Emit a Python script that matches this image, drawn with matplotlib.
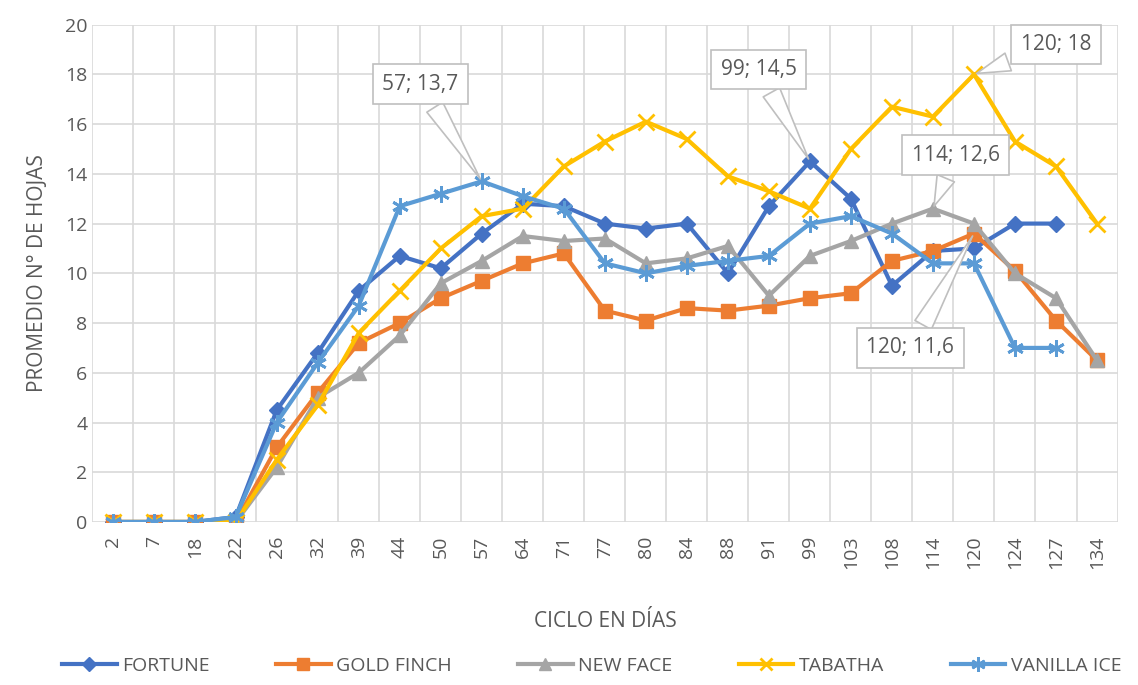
"""Promedio de hojas por ciclo, cinco variedades."""

import matplotlib

matplotlib.use("Agg", force=True)
import matplotlib.pyplot as plt
import numpy as np
from matplotlib import font_manager

dias = ["2", "7", "18", "22", "26", "32", "39", "44", "50", "57", "64", "71", "77",
        "80", "84", "88", "91", "99", "103", "108", "114", "120", "124", "127", "134"]

fortune = [0, 0, 0, 0.2, 4.5, 6.8, 9.3, 10.7, 10.2, 11.6, 12.8, 12.7, 12.0,
           11.8, 12.0, 10.0, 12.7, 14.5, 13.0, 9.5, 10.9, 11.0, 12.0, 12.0, None]
gold_finch = [0, 0, 0, 0, 3.0, 5.2, 7.2, 8.0, 9.0, 9.7, 10.4, 10.8, 8.5,
              8.1, 8.6, 8.5, 8.7, 9.0, 9.2, 10.5, 10.9, 11.6, 10.1, 8.1, 6.5]
new_face = [0, 0, 0, 0, 2.2, 5.0, 6.0, 7.5, 9.6, 10.5, 11.5, 11.3, 11.4,
            10.4, 10.6, 11.1, 9.1, 10.7, 11.3, 12.0, 12.6, 12.0, 10.0, 9.0, 6.5]
tabatha = [0, 0, 0, 0, 2.5, 4.7, 7.6, 9.3, 11.0, 12.3, 12.6, 14.3, 15.3,
           16.1, 15.4, 13.9, 13.3, 12.6, 15.0, 16.7, 16.3, 18.0, 15.3, 14.3, 12.0]
vanilla_ice = [0, 0, 0, 0.2, 4.0, 6.4, 8.7, 12.7, 13.2, 13.7, 13.1, 12.6, 10.4,
               10.0, 10.3, 10.5, 10.7, 12.0, 12.3, 11.6, 10.4, 10.4, 7.0, 7.0, None]

series = [
    ("FORTUNE", fortune, "#4472C4", "D"),
    ("GOLD FINCH", gold_finch, "#ED7D31", "s"),
    ("NEW FACE", new_face, "#A5A5A5", "^"),
    ("TABATHA", tabatha, "#FFC000", "x"),
    ("VANILLA ICE", vanilla_ice, "#5B9BD5", "*"),
]

# etiquetas: (texto, categoria, valor, posicion caja x, y)
etiquetas = [
    ("57; 13,7", "57", 13.7, 7.5, 17.6),
    ("99; 14,5", "99", 14.5, 15.75, 18.2),
    ("120; 18", "120", 18.0, 23.0, 19.2),
    ("114; 12,6", "114", 12.6, 20.55, 14.75),
    ("120; 11,6", "120", 11.6, 19.45, 7.0),
]

names = {f.name for f in font_manager.fontManager.ttflist}
narrow = "Liberation Sans Narrow" if "Liberation Sans Narrow" in names else "Open Sans"
plt.rcParams["font.family"] = [narrow, "DejaVu Sans"]

gris = "#595959"
fig = plt.figure(figsize=(11.38, 6.85), dpi=100)
ax = fig.add_axes([0.081, 0.238, 0.901, 0.726])

x = np.arange(len(dias))
for name, vals, color, marker in series:
    y = np.array([np.nan if v is None else v for v in vals], dtype=float)
    if marker == "x":
        ax.plot(x, y, color=color, lw=3, marker="x", ms=11, mew=2, label=name, zorder=3)
    elif marker == "*":
        ax.plot(x, y, color=color, lw=3, marker=(6, 2, 0), ms=12, mew=2, label=name, zorder=3)
    elif marker == "D":
        ax.plot(x, y, color=color, lw=3, marker="D", ms=8, label=name, zorder=3)
    else:
        ax.plot(x, y, color=color, lw=3, marker=marker, ms=10, label=name, zorder=3)

for texto, cat, val, bx, by in etiquetas:
    ax.annotate(texto, xy=(dias.index(cat), val), xytext=(bx, by),
                ha="center", va="center", fontsize=15, color=gris, zorder=5,
                bbox=dict(boxstyle="square,pad=0.45", fc="white", ec="#BFBFBF", lw=1.2),
                arrowprops=dict(arrowstyle="wedge,tail_width=0.9,shrink_factor=0.5",
                                fc="white", ec="#BFBFBF", lw=1.2))

ax.set_xlim(-0.5, len(dias) - 0.5)
ax.set_ylim(0, 20)
ax.set_yticks(np.arange(0, 21, 2))
ax.set_xticks(x)
ax.set_xticklabels(dias, rotation=90)
ax.set_xticks(np.arange(-0.5, len(dias), 1), minor=True)
ax.grid(True, which="minor", axis="x", color="#D9D9D9", lw=1.2)
ax.grid(True, which="major", axis="y", color="#D9D9D9", lw=1.2)
ax.set_axisbelow(True)
ax.tick_params(which="both", length=0, colors=gris, labelsize=14)
ax.tick_params(axis="x", pad=10)
for s in ax.spines.values():
    s.set_visible(False)

ax.set_ylabel("PROMEDIO N° DE HOJAS", fontsize=15, color=gris, labelpad=12)
fig.text(0.532, 0.092, "CICLO EN DÍAS", ha="center", va="center", fontsize=15, color=gris)

leg = fig.legend(loc="center", bbox_to_anchor=(0.52, 0.028), ncol=5, frameon=False,
                 fontsize=14, handlelength=2.8, handletextpad=0.3, columnspacing=3.4,
                 labelcolor=gris, markerscale=0.85)

fig.savefig("out.png")
